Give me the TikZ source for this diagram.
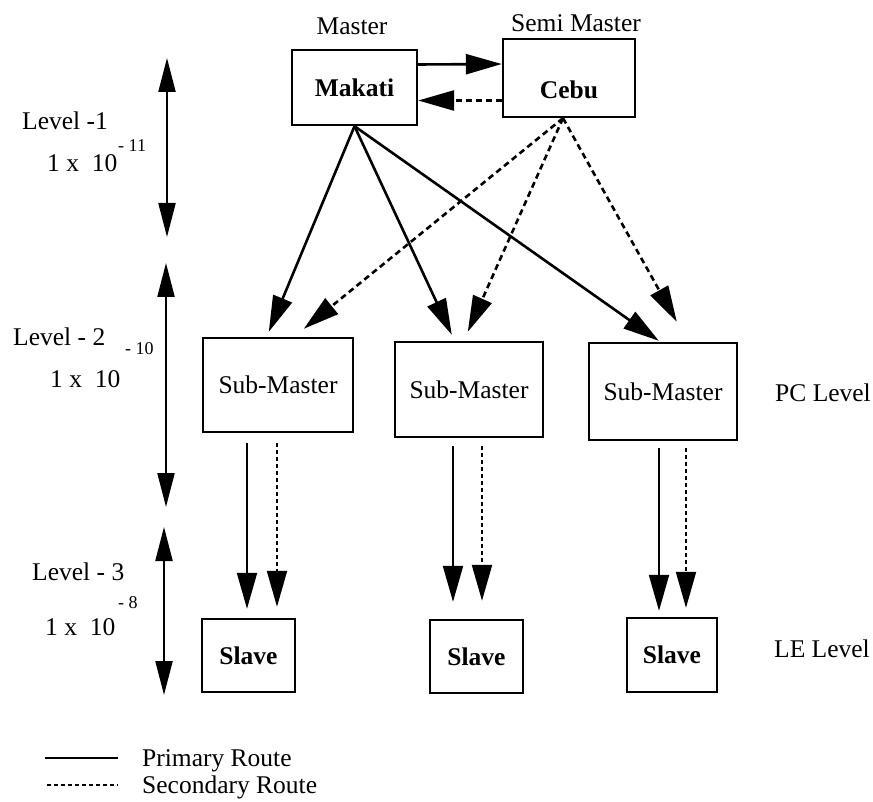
\documentclass[tikz,border=0pt]{standalone}
\usepackage{fontspec}
\setmainfont{Liberation Serif}
\usetikzlibrary{arrows.meta,calc}

\begin{document}
\begin{tikzpicture}[x=1pt,y=-1pt,
  every node/.style={font=\fontsize{25.5}{30}\selectfont},
  box/.style={draw,line width=2.4pt,inner sep=0pt},
  boldbox/.style={box,font=\fontsize{25.5}{30}\selectfont\bfseries},
  lbl/.style={inner sep=0pt},
  expo/.style={inner sep=0pt,font=\fontsize{18}{20}\selectfont},
  headtip/.style={-{Triangle[length=36pt,width=20pt]}},
  route/.style={line width=2.6pt,headtip},
  alt/.style={route,dash pattern=on 6pt off 4pt},
  droute/.style={line width=2.1pt,headtip},
  dalt/.style={droute,dash pattern=on 4pt off 3pt},
  span/.style={line width=2.2pt,{Triangle[length=34pt,width=17pt]}-{Triangle[length=34pt,width=17pt]}}
]
\useasboundingbox (0,0) rectangle (873,802);

% ---- stations ----
\node[boldbox,minimum width=125pt,minimum height=75pt] (makati) at (354.5,87.5) {Makati};
\node[boldbox,minimum width=132pt,minimum height=78pt,text height=42pt,text depth=0pt] (cebu) at (569,78) {Cebu};

\node[box,minimum width=150pt,minimum height=94pt] (sm1) at (278,385) {Sub-Master};
\node[box,minimum width=148pt,minimum height=95pt] (sm2) at (469,389.5) {Sub-Master};
\node[box,minimum width=148pt,minimum height=97pt] (sm3) at (663,391.5) {Sub-Master};

\node[boldbox,minimum width=93pt,minimum height=73pt] (sl1) at (248.5,655.5) {Slave};
\node[boldbox,minimum width=93pt,minimum height=73pt] (sl2) at (476.5,656.5) {Slave};
\node[boldbox,minimum width=90pt,minimum height=74pt] (sl3) at (672,655) {Slave};

% ---- captions ----
\node[lbl,anchor=base] (mastert) at (352,35) {Master};
\node[lbl,anchor=base] (semit) at (576,32) {Semi Master};
\node[lbl,anchor=base west] (pct) at (775,401) {PC Level};
\node[lbl,anchor=base west] (let) at (774,657) {LE Level};

% ---- level labels ----
\node[lbl,anchor=base west] (lv1) at (22,130) {Level -1};
\node[lbl,anchor=base west] (lv1n) at (47,172) {1 x\ \ 10};
\node[expo,anchor=base west] (lv1e) at (118,152) {-\ 11};
\node[lbl,anchor=base west] (lv2) at (13,345) {Level - 2};
\node[expo,anchor=base west] (lv2e) at (125,355) {-\ 10};
\node[lbl,anchor=base west] (lv2n) at (50,387) {1 x\ \ 10};
\node[lbl,anchor=base west] (lv3) at (32,580) {Level - 3};
\node[expo,anchor=base west] (lv3e) at (118,608) {-\ 8};
\node[lbl,anchor=base west] (lv3n) at (45,635) {1 x\ \ 10};

% ---- level spans ----
\coordinate (s1a) at (167,58);  \coordinate (s1b) at (167,237);
\coordinate (s2a) at (166,263); \coordinate (s2b) at (166,507);
\coordinate (s3a) at (164,527); \coordinate (s3b) at (164,695);
\draw[span] (s1a) -- (s1b);
\draw[span] (s2a) -- (s2b);
\draw[span] (s3a) -- (s3b);

% ---- master / semi master link ----
\draw[route] ([yshift=23pt]makati.east) -- ([yshift=14pt]cebu.west);
\draw[alt] ([yshift=-22.5pt]cebu.west) -- ([yshift=-13pt]makati.east);

% ---- primary routes from Makati ----
\draw[route] (makati.south) -- ([xshift=67pt,yshift=5pt]sm1.north west);
\draw[route] (makati.south) -- ([xshift=58pt,yshift=6pt]sm2.north west);
\draw[route] (makati.south) -- ([xshift=71pt,yshift=1pt]sm3.north west);

% ---- secondary routes from Cebu ----
\draw[alt] ([xshift=-6pt]cebu.south) -- ([xshift=102pt,yshift=8pt]sm1.north west);
\draw[alt] ([xshift=-6pt]cebu.south) -- ([xshift=74pt,yshift=9pt]sm2.north west);
\draw[alt] ([xshift=-6pt]cebu.south) -- ([xshift=89pt,yshift=20pt]sm3.north west);

% ---- sub-master to slave ----
\draw[droute,shorten <=10pt,shorten >=9pt]  ([xshift=-31pt]sm1.south) -- ([xshift=-31pt]sm1.south |- sl1.north);
\draw[dalt,shorten <=10pt,shorten >=11pt]   ([xshift=-1pt]sm1.south) -- ([xshift=-1pt]sm1.south |- sl1.north);
\draw[droute,shorten <=8pt,shorten >=17pt]  ([xshift=-16pt]sm2.south) -- ([xshift=-16pt]sm2.south |- sl2.north);
\draw[dalt,shorten <=8pt,shorten >=18pt]    ([xshift=13pt]sm2.south) -- ([xshift=13pt]sm2.south |- sl2.north);
\draw[droute,shorten <=7pt,shorten >=6pt]   ([xshift=-4pt]sm3.south) -- ([xshift=-4pt]sm3.south |- sl3.north);
\draw[dalt,shorten <=7pt,shorten >=9pt]     ([xshift=23pt]sm3.south) -- ([xshift=23pt]sm3.south |- sl3.north);

% ---- legend ----
\coordinate (k1a) at (45,758); \coordinate (k1b) at (118,758);
\coordinate (k2a) at (47,785); \coordinate (k2b) at (118,785);
\draw[line width=1.8pt] (k1a) -- (k1b);
\draw[line width=1.8pt,dash pattern=on 4pt off 3pt] (k2a) -- (k2b);
\node[lbl,anchor=base west] (prim) at (142,766) {Primary Route};
\node[lbl,anchor=base west] (sec) at (142,793) {Secondary Route};
\end{tikzpicture}
\end{document}
